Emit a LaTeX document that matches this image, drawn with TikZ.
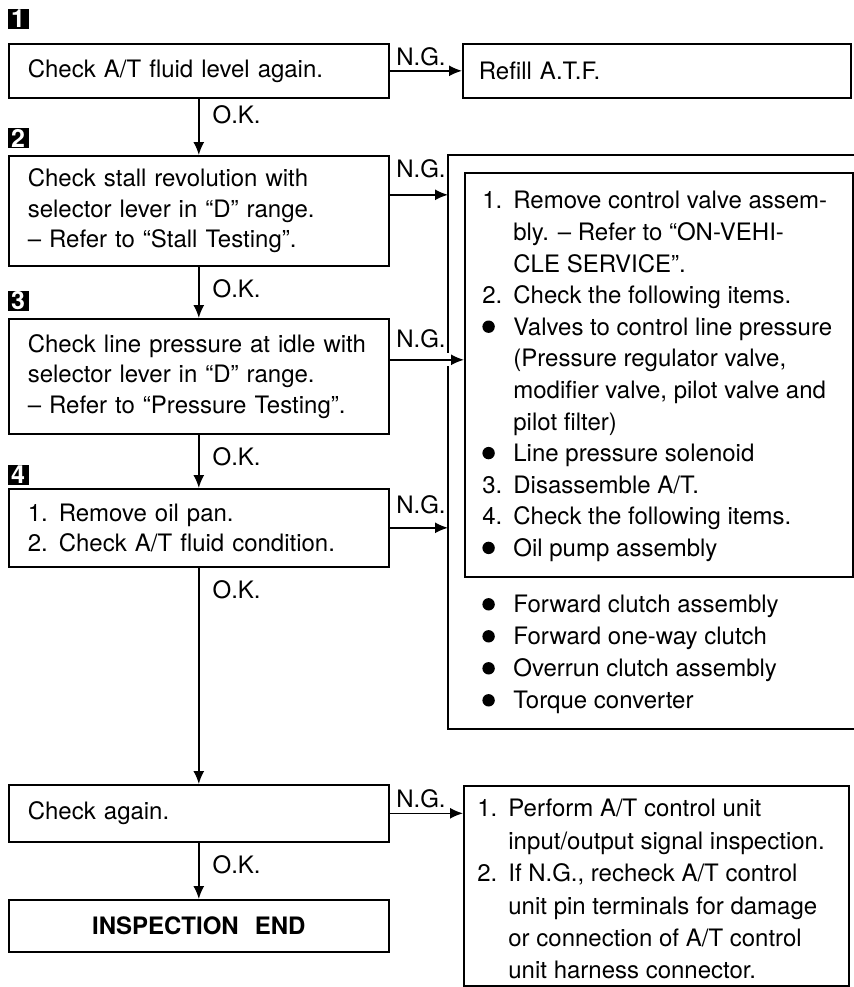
\documentclass[tikz,border=0pt]{standalone}
\usepackage{fontspec}
\setmainfont{TeX Gyre Heros}
\usetikzlibrary{arrows.meta,positioning}

\newcommand{\stepitem}[2]{\makebox[15.5pt][l]{#1}#2}
\newcommand{\stepcont}[1]{\hspace*{15.5pt}#1}
\newcommand{\dotmark}{\tikz[baseline=-4.3pt]\fill (0,0) circle[radius=3.1pt];}

\begin{document}
\begin{tikzpicture}[x=0.5pt,y=-0.5pt,font=\fontsize{12}{15.25}\selectfont,
  stepbox/.style={draw,line width=0.8pt,anchor=north west,minimum width=190pt,
    inner xsep=9.5pt,text width=171pt,align=left},
  badge/.style={fill=black,text=white,font=\bfseries\fontsize{12.5}{12.5}\selectfont,
    minimum width=10.5pt,minimum height=10pt,inner sep=0pt},
  flow/.style={line width=0.8pt,-{Latex[length=6.5pt,width=5.5pt]}},
  frame/.style={line width=0.8pt},
  listtext/.style={anchor=north west,inner sep=0pt,align=left,
    font=\fontsize{12}{16}\selectfont},
  oklabel/.style={pos=0,anchor=north west,inner sep=0pt,xshift=6.5pt,yshift=-6pt},
  nglabel/.style={pos=0,anchor=base west,inner sep=0pt,xshift=3pt,yshift=#1}]
  \useasboundingbox (0,0) rectangle (854,987);

  % left column of checks
  \node[badge] (n1) at (18,19) {1};
  \node[stepbox,minimum height=27pt] (b1) at (8,43) {Check A/T fluid level again.};
  \node[badge] (n2) at (18,138) {2};
  \node[stepbox,minimum height=55pt] (b2) at (8,155)
    {Check stall revolution with\\selector lever in ``D'' range.\\-- Refer to ``Stall Testing''.};
  \node[badge] (n3) at (18,301) {3};
  \node[stepbox,minimum height=57.5pt] (b3) at (8,318)
    {Check line pressure at idle with\\selector lever in ``D'' range.\\-- Refer to ``Pressure Testing''.};
  \node[badge] (n4) at (18,475) {4};
  \node[stepbox,minimum height=39pt] (b4) at (8,488)
    {\stepitem{1.}{Remove oil pan.}\\\stepitem{2.}{Check A/T fluid condition.}};
  \node[stepbox,minimum height=28.5pt] (b5) at (8,784) {Check again.};
  \node[stepbox,minimum height=26pt,align=center,font=\bfseries\fontsize{12}{15}\selectfont]
    (b6) at (8,899) {INSPECTION\ \ END};

  % right column of remedies
  \node[stepbox,minimum width=194pt,text width=178pt,inner xsep=8pt,minimum height=27pt]
    (refill) at (462,43) {Refill A.T.F.};
  \coordinate (frTL) at (448,155);
  \coordinate (frBL) at (448,729);
  \draw[frame] (854,155) -- (frTL) -- (448,353);
  \draw[frame] (448,366) -- (frBL) -- (854,729);
  \node[draw,line width=0.8pt,anchor=north west,minimum width=194pt,minimum height=202pt]
    (inner) at (464,172) {};
  \node[listtext,font=\fontsize{12}{15.8}\selectfont] (innertxt) at (482,191) {%
    \stepitem{1.}{Remove control valve assem-}\\
    \stepcont{bly. -- Refer to ``ON-VEHI-}\\
    \stepcont{CLE SERVICE''.}\\
    \stepitem{2.}{Check the following items.}\\
    \stepitem{\dotmark}{Valves to control line pressure}\\
    \stepcont{(Pressure regulator valve,}\\
    \stepcont{modifier valve, pilot valve and}\\
    \stepcont{pilot filter)}\\
    \stepitem{\dotmark}{Line pressure solenoid}\\
    \stepitem{3.}{Disassemble A/T.}\\
    \stepitem{4.}{Check the following items.}\\
    \stepitem{\dotmark}{Oil pump assembly}};
  \node[listtext] (outertxt) at (482,595) {%
    \stepitem{\dotmark}{Forward clutch assembly}\\
    \stepitem{\dotmark}{Forward one-way clutch}\\
    \stepitem{\dotmark}{Overrun clutch assembly}\\
    \stepitem{\dotmark}{Torque converter}};
  \node[draw,line width=0.8pt,anchor=north west,minimum width=192.5pt,minimum height=100pt]
    (final) at (463,785) {};
  \node[listtext,font=\fontsize{12}{16.2}\selectfont] (finaltxt) at (477,799) {%
    \stepitem{1.}{Perform A/T control unit}\\
    \stepcont{input/output signal inspection.}\\
    \stepitem{2.}{If N.G., recheck A/T control}\\
    \stepcont{unit pin terminals for damage}\\
    \stepcont{or connection of A/T control}\\
    \stepcont{unit harness connector.}};

  % O.K. connectors
  \draw[flow] (b1.south) -- (b2.north) node[oklabel,yshift=3pt] {O.K.};
  \draw[flow] (b2.south) -- (b3.north) node[oklabel] {O.K.};
  \draw[flow] (b3.south) -- (b4.north) node[oklabel] {O.K.};
  \draw[flow] (b4.south) -- (b5.north) node[oklabel] {O.K.};
  \draw[flow] (b5.south) -- (b6.north) node[oklabel] {O.K.};

  % N.G. connectors
  \draw[flow] (b1.east) -- (refill.west) node[nglabel=2.5pt] {N.G.};
  \draw[flow] ([yshift=8pt]b2.east) -- ([yshift=8pt]b2.east -| frTL) node[nglabel=8.5pt] {N.G.};
  \draw[flow] ([yshift=8.25pt]b3.east) -- ([yshift=8.25pt]b3.east -| inner.west) node[nglabel=6pt] {N.G.};
  \draw[flow] (b4.east) -- (b4.east -| frBL) node[nglabel=7pt] {N.G.};
  \draw[flow] (b5.east) -- (b5.east -| final.west) node[nglabel=3pt] {N.G.};
\end{tikzpicture}
\end{document}
